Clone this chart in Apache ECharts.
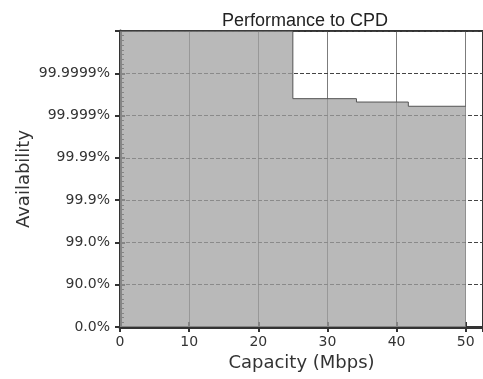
<!DOCTYPE html>
<html>
<head>
<meta charset="utf-8">
<script src="https://cdn.jsdelivr.net/npm/echarts@6/dist/echarts.min.js"></script>
<style>
  html, body { margin: 0; padding: 0; background: #fff; }
  #chart { width: 483px; height: 379px; }
</style>
</head>
<body>
<div id="chart"></div>
<script>
// capacity (Mbps) where the availability step changes
var capacity = [0, 25, 34.2, 41.7, 50];
// availability as "number of nines" (0 = 0%, 1 = 90%, 2 = 99% ...)
var nines = [7, 5.40, 5.32, 5.22, 5.22];
var yTickLabels = ['0.0%', '90.0%', '99.0%', '99.9%', '99.99%', '99.999%', '99.9999%', ''];

var points = capacity.map(function (c, i) { return [c, nines[i]]; });

var chart = echarts.init(document.getElementById('chart'));

chart.setOption({
    backgroundColor: '#fff',
    animation: false,
    title: {
        text: 'Performance to CPD',
        left: 217,
        top: 7,
        textStyle: { fontFamily: 'Liberation Sans', fontSize: 18, fontWeight: 'normal', color: '#222' }
    },
    grid: {
        left: 120,
        right: 0,
        top: 31,
        bottom: 52,
        show: true,
        borderColor: '#333',
        borderWidth: 2,
        backgroundColor: '#fff'
    },
    xAxis: [
        {
            type: 'value',
            min: 0,
            max: 52.5,
            interval: 10,
            name: 'Capacity (Mbps)',
            nameLocation: 'middle',
            nameGap: 26,
            nameTextStyle: { fontFamily: 'DejaVu Sans', fontSize: 18, color: '#333' },
            axisLine: { show: true, lineStyle: { color: '#333', width: 3 } },
            axisTick: { show: true, inside: true, length: 5, lineStyle: { color: '#333', width: 2 } },
            axisLabel: { fontFamily: 'DejaVu Sans', fontSize: 14, color: '#333', margin: 8, showMaxLabel: false },
            splitLine: { show: true, lineStyle: { color: '#444', width: 1, type: 'solid', opacity: 0.7 } }
        },
        {
            type: 'value',
            position: 'top',
            min: 0,
            max: 52.5,
            interval: 10,
            axisLine: { show: false },
            axisTick: { show: true, inside: true, length: 5, lineStyle: { color: '#333', width: 2 } },
            axisLabel: { show: false },
            splitLine: { show: false }
        }
    ],
    yAxis: [
        {
            type: 'value',
            min: 0,
            max: 7,
            interval: 1,
            name: 'Availability',
            nameLocation: 'middle',
            nameGap: 87,
            nameMoveOverlap: false,
            nameTextStyle: { fontFamily: 'DejaVu Sans', fontSize: 18, color: '#333' },
            axisLine: { show: true, lineStyle: { color: '#333', width: 3 } },
            axisTick: { show: true, inside: true, length: 5, lineStyle: { color: '#333', width: 2 } },
            minorTick: { show: true, splitNumber: 9, length: 4, lineStyle: { color: '#333', width: 1 } },
            axisLabel: {
                fontFamily: 'DejaVu Sans', fontSize: 14, color: '#333', margin: 10,
                formatter: function (v) { return yTickLabels[Math.round(v)]; }
            },
            splitLine: { show: true, lineStyle: { color: '#444', width: 1, type: 'dashed' } }
        },
        {
            type: 'value',
            position: 'right',
            min: 0,
            max: 7,
            interval: 1,
            axisLine: { show: false },
            axisTick: { show: true, inside: true, length: 5, lineStyle: { color: '#333', width: 2 } },
            axisLabel: { show: false },
            splitLine: { show: false }
        }
    ],
    series: [
        {
            type: 'line',
            step: 'end',
            xAxisIndex: 0,
            yAxisIndex: 0,
            showSymbol: false,
            lineStyle: { color: '#555', width: 1 },
            areaStyle: { color: '#a2a2a2', opacity: 0.75 },
            data: points
        }
    ]
});
</script>
</body>
</html>
